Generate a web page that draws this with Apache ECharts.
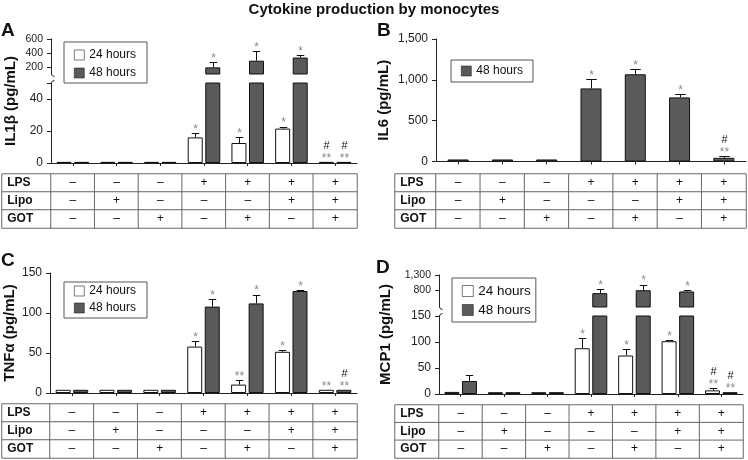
<!DOCTYPE html>
<html><head><meta charset="utf-8">
<script src="https://cdn.jsdelivr.net/npm/echarts@6/dist/echarts.min.js"></script>
<style>html,body{margin:0;padding:0;background:#fff}#c{width:748px;height:460px}</style>
</head><body><div id="c"></div>
<script>
// ---------- data ----------
const conditions = ['1', '2', '3', '4', '5', '6', '7'];
const tableRows = ['LPS', 'Lipo', 'GOT'];
const lpsRow  = ['–', '–', '–', '+', '+', '+', '+'];
const lipoRow = ['–', '+', '–', '–', '–', '+', '+'];
const gotRow  = ['–', '–', '+', '–', '+', '–', '+'];
const name24 = '24 hours';
const name48 = '48 hours';

// Panel A: IL1β (pg/mL)
const il1b24 = [0.7, 0.7, 0.7, 16, 12.5, 21.5, 0.7];
const il1b24Err = [0, 0, 0, 2.8, 3.5, 1.2, 0];
const il1b24Sig = ['', '', '', '*', '*', '*', '#**'];
const il1b48 = [0.7, 0.7, 0.7, 195, 290, 335, 0.7];
const il1b48Err = [0, 0, 0, 70, 140, 35, 0];
const il1b48Sig = ['', '', '', '*', '*', '*', '#**'];
const il1bTopLabels = [200, 400, 600];
const il1bBottomLabels = [0, 20, 40];
const il1bBottomTicks = [0, 20, 40, 50];

// Panel B: IL6 (pg/mL)
const il6_48 = [25, 25, 25, 895, 1068, 785, 45];
const il6_48Err = [0, 0, 0, 115, 60, 42, 18];
const il6_48Sig = ['', '', '', '*', '*', '*', '#**'];
const il6Labels = [0, 500, 1000, 1500];

// Panel C: TNFα (pg/mL)
const tnf24 = [4, 4, 4, 58, 10.5, 51.5, 4];
const tnf24Err = [0, 0, 0, 7, 6, 1.8, 0];
const tnf24Sig = ['', '', '', '*', '**', '*', '**'];
const tnf48 = [4, 4, 4, 108, 112, 127.5, 4];
const tnf48Err = [0, 0, 0, 9, 11, 1.2, 0];
const tnf48Sig = ['', '', '', '*', '*', '*', '#**'];
const tnfLabels = [0, 50, 100, 150];

// Panel D: MCP1 (pg/mL)
const mcp24 = [4, 3.5, 3.5, 88, 74, 101.5, 7];
const mcp24Err = [0, 0, 0, 20, 13, 1.5, 4.5];
const mcp24Sig = ['', '', '', '*', '*', '*', '#**'];
const mcp48 = [25, 3.5, 3.5, 715, 810, 770, 3.5];
const mcp48Err = [11, 0, 0, 140, 180, 40, 0];
const mcp48Sig = ['', '', '', '*', '*', '*', '#**'];
const mcpTopLabels = [800, 1300];
const mcpBottomLabels = [0, 50, 100, 150];

// ---------- builders ----------
const FONT = 'Liberation Sans, Arial, Helvetica, sans-serif';
const AX = '#222';
const grids = [], xAxis = [], yAxis = [], series = [], heatIdx = [], hooks = [];
const fmt = v => String(v).replace(/\B(?=(\d{3})+(?!\d))/g, ',');

function addGrid(left, top, width, height) {
  grids.push({ left, top, width, height, containLabel: false });
  return grids.length - 1;
}

function errSeries(xi, yi, values, errs, sigs, offset, capW, lo, hi) {
  return {
    type: 'custom', xAxisIndex: xi, yAxisIndex: yi, silent: true, z: 5, clip: false,
    data: values.map((v, i) => [i, v, errs[i]]),
    renderItem: function (params, api) {
      const i = api.value(0), v = api.value(1), e = api.value(2);
      if (!(v > lo && v <= hi)) return null;
      const base = api.coord([i, v]);
      const top = api.coord([i, v + e]);
      const x = Math.round(base[0] + offset) + 0.5;
      const children = [];
      if (e > 0) {
        const yt = Math.round(top[1]) + 0.5;
        children.push({ type: 'line', shape: { x1: x, y1: base[1], x2: x, y2: yt }, style: { stroke: '#111', lineWidth: 1 } });
        children.push({ type: 'line', shape: { x1: x - capW / 2, y1: yt, x2: x + capW / 2, y2: yt }, style: { stroke: '#111', lineWidth: 1 } });
      }
      const s = sigs[i];
      if (s) {
        const hasHash = s.indexOf('#') >= 0;
        const stars = s.replace('#', '');
        const y0 = top[1] + 2.5;
        children.push({ type: 'text', x: x, y: y0, style: { text: stars, fill: '#8a8a8a', font: '12px ' + FONT, align: 'center', verticalAlign: 'bottom' } });
        if (hasHash) {
          children.push({ type: 'text', x: x, y: y0 - 13, style: { text: '#', fill: '#111', font: '11px ' + FONT, align: 'center', verticalAlign: 'bottom' } });
        }
      }
      return { type: 'group', children };
    }
  };
}

function barPanel(cfg) {
  const n = cfg.data.length;
  const gapRatio = 0.17;
  const gapPx = cfg.barW * gapRatio;
  const offsets = n === 2 ? [-(cfg.barW + gapPx) / 2, (cfg.barW + gapPx) / 2] : [0];
  cfg.segments.forEach((seg, si) => {
    const gi = addGrid(cfg.axisX, seg.top, cfg.right - cfg.axisX, seg.height);
    if (cfg.segments.length > 1) {
      if (si === 0) hooks.push({ x: cfg.axisX, y: seg.top + seg.height, dir: 1 });
      else hooks.push({ x: cfg.axisX, y: seg.top, dir: -1 });
    }
    xAxis.push({
      gridIndex: gi, type: 'category', data: conditions,
      axisLine: { show: seg.xLine, lineStyle: { color: AX, width: 1 } },
      axisTick: { show: seg.xLine, alignWithLabel: true, length: 3, lineStyle: { color: AX } },
      axisLabel: { show: false }, splitLine: { show: false }
    });
    const xi = xAxis.length - 1;
    yAxis.push({
      gridIndex: gi, type: 'value', min: seg.min, max: seg.max,
      axisLine: { show: true, lineStyle: { color: AX, width: 1 } },
      axisTick: { show: true, length: 4, customValues: seg.ticks, lineStyle: { color: AX } },
      axisLabel: { show: true, customValues: seg.labels, fontSize: seg.fontSize, color: '#222', margin: 8, fontFamily: FONT, formatter: fmt },
      splitLine: { show: false },
      name: seg.name || '', nameLocation: 'middle', nameRotate: 90, nameGap: seg.nameGap || 0,
      nameTextStyle: { fontSize: 15, fontWeight: 'bold', color: '#111', fontFamily: FONT }
    });
    const yi = yAxis.length - 1;
    cfg.data.forEach((d) => {
      series.push({
        type: 'bar', name: d.name, xAxisIndex: xi, yAxisIndex: yi,
        barWidth: cfg.barW, barGap: (gapRatio * 100) + '%', clip: true, silent: true,
        itemStyle: { color: d.color, borderColor: '#111', borderWidth: 1 },
        data: d.values.map(v => (v > seg.lo ? v : null))
      });
    });
    cfg.data.forEach((d, k) => {
      series.push(errSeries(xi, yi, d.values, d.errs, d.sigs, offsets[k], cfg.barW * 0.5, seg.lo, seg.hi));
    });
  });
  if (cfg.nameAxis) {
    const na = cfg.nameAxis;
    const gi = addGrid(cfg.axisX, na.top, 1, na.height);
    xAxis.push({ gridIndex: gi, type: 'value', show: false });
    yAxis.push({
      gridIndex: gi, type: 'value', show: true,
      axisLine: { show: false }, axisTick: { show: false }, axisLabel: { show: false }, splitLine: { show: false },
      name: na.name, nameLocation: 'middle', nameRotate: 90, nameGap: na.gap,
      nameTextStyle: { fontSize: 15, fontWeight: 'bold', color: '#111', fontFamily: FONT }
    });
  }
}

function tablePanel(labelLeft, dataLeft, right, top, height) {
  const rows = [lpsRow, lipoRow, gotRow];
  const gL = addGrid(labelLeft, top, dataLeft - labelLeft, height);
  xAxis.push({ gridIndex: gL, type: 'category', data: [''], show: false });
  yAxis.push({ gridIndex: gL, type: 'category', data: tableRows, inverse: true, show: false });
  heatIdx.push(series.length);
  series.push({
    type: 'heatmap', xAxisIndex: xAxis.length - 1, yAxisIndex: yAxis.length - 1, silent: true,
    data: tableRows.map((r, i) => [0, i, 0]),
    itemStyle: { borderColor: '#6a6a6a', borderWidth: 1 },
    emphasis: { disabled: true },
    label: { show: true, position: 'insideLeft', distance: 6, fontWeight: 'bold', fontSize: 12, color: '#111', fontFamily: FONT,
      formatter: p => tableRows[p.data[1]] }
  });
  const gD = addGrid(dataLeft, top, right - dataLeft, height);
  xAxis.push({ gridIndex: gD, type: 'category', data: conditions, show: false });
  yAxis.push({ gridIndex: gD, type: 'category', data: tableRows, inverse: true, show: false });
  const cells = [];
  rows.forEach((row, r) => row.forEach((v, c) => cells.push([c, r, 0])));
  heatIdx.push(series.length);
  series.push({
    type: 'heatmap', xAxisIndex: xAxis.length - 1, yAxisIndex: yAxis.length - 1, silent: true,
    data: cells,
    itemStyle: { borderColor: '#6a6a6a', borderWidth: 1 },
    emphasis: { disabled: true },
    label: { show: true, fontSize: 12, color: '#111', fontFamily: FONT,
      formatter: p => rows[p.data[1]][p.data[0]] }
  });
}

const WHITE = '#ffffff', DARK = '#5a5a5a';

// Panel A
barPanel({
  axisX: 51, right: 357, barW: 15,
  data: [
    { name: name24, values: il1b24, errs: il1b24Err, sigs: il1b24Sig, color: WHITE },
    { name: name48, values: il1b48, errs: il1b48Err, sigs: il1b48Sig, color: DARK }
  ],
  segments: [
    { top: 39, height: 35, min: 100, max: 600, ticks: il1bTopLabels, labels: il1bTopLabels, fontSize: 10.5, xLine: false, lo: 50, hi: Infinity },
    { top: 83, height: 80, min: 0, max: 50, ticks: il1bBottomTicks, labels: il1bBottomLabels, fontSize: 12, xLine: true, lo: -Infinity, hi: 50 }
  ],
  nameAxis: { top: 39, height: 124, name: 'IL1β (pg/mL)', gap: 33 }
});
tablePanel(2, 51, 357, 174, 54);

// Panel B
barPanel({
  axisX: 436, right: 746, barW: 21,
  data: [ { name: name48, values: il6_48, errs: il6_48Err, sigs: il6_48Sig, color: DARK } ],
  segments: [
    { top: 39, height: 122.5, min: 0, max: 1500, ticks: il6Labels, labels: il6Labels, fontSize: 12, xLine: true, lo: -Infinity, hi: Infinity,
      name: 'IL6 (pg/mL)', nameGap: 45 }
  ]
});
tablePanel(395, 436, 746, 174, 54);

// Panel C
barPanel({
  axisX: 50, right: 357, barW: 15,
  data: [
    { name: name24, values: tnf24, errs: tnf24Err, sigs: tnf24Sig, color: WHITE },
    { name: name48, values: tnf48, errs: tnf48Err, sigs: tnf48Sig, color: DARK }
  ],
  segments: [
    { top: 273, height: 120, min: 0, max: 150, ticks: tnfLabels, labels: tnfLabels, fontSize: 12, xLine: true, lo: -Infinity, hi: Infinity,
      name: 'TNFα (pg/mL)', nameGap: 33 }
  ]
});
tablePanel(2, 50, 357, 404, 54);

// Panel D
barPanel({
  axisX: 439, right: 743, barW: 15,
  data: [
    { name: name24, values: mcp24, errs: mcp24Err, sigs: mcp24Sig, color: WHITE },
    { name: name48, values: mcp48, errs: mcp48Err, sigs: mcp48Sig, color: DARK }
  ],
  segments: [
    { top: 275, height: 32, min: 270, max: 1300, ticks: mcpTopLabels, labels: mcpTopLabels, fontSize: 10.5, xLine: false, lo: 150, hi: Infinity },
    { top: 316, height: 78, min: 0, max: 150, ticks: mcpBottomLabels, labels: mcpBottomLabels, fontSize: 12, xLine: true, lo: -Infinity, hi: 150 }
  ],
  nameAxis: { top: 275, height: 119, name: 'MCP1 (pg/mL)', gap: 46 }
});
tablePanel(395, 439, 743, 405, 53);

// small curved hooks at the axis breaks
const graphic = hooks.map(h => ({
  type: 'bezierCurve', silent: true, z: 10,
  shape: { x1: h.x + 0.5, y1: h.y, cpx1: h.x + 0.5, cpy1: h.y + 2 * h.dir, x2: h.x + 3.5, y2: h.y + 2.5 * h.dir },
  style: { stroke: AX, lineWidth: 1, fill: null }
}));

const legendBase = {
  orient: 'vertical', itemWidth: 10, itemHeight: 10, icon: 'rect', selectedMode: false,
  borderColor: '#555', borderWidth: 1, borderRadius: 0,
  itemStyle: { borderWidth: 0.6, borderColor: '#222' },
  textStyle: { fontSize: 12, color: '#111', fontFamily: FONT }
};

const option = {
  animation: false,
  backgroundColor: '#fff',
  textStyle: { fontFamily: FONT },
  title: [
    { text: 'Cytokine production by monocytes', left: 'center', top: 2, padding: 0,
      textStyle: { fontSize: 15, fontWeight: 'bold', color: '#111', fontFamily: FONT } },
    { text: 'A', left: 1, top: 21, padding: 0, textStyle: { fontSize: 19, fontWeight: 'bold', color: '#111', fontFamily: FONT } },
    { text: 'B', left: 377, top: 21, padding: 0, textStyle: { fontSize: 19, fontWeight: 'bold', color: '#111', fontFamily: FONT } },
    { text: 'C', left: 1, top: 251, padding: 0, textStyle: { fontSize: 19, fontWeight: 'bold', color: '#111', fontFamily: FONT } },
    { text: 'D', left: 376, top: 258, padding: 0, textStyle: { fontSize: 19, fontWeight: 'bold', color: '#111', fontFamily: FONT } }
  ],
  legend: [
    Object.assign({}, legendBase, { left: 64, top: 42, data: [name24, name48], itemGap: 6, padding: [7, 11, 4, 10] }),
    Object.assign({}, legendBase, { left: 451, top: 60, data: [name48], padding: [5, 10, 5, 10] }),
    Object.assign({}, legendBase, { left: 64, top: 282, data: [name24, name48], itemGap: 5, padding: [3, 11, 4, 10] }),
    Object.assign({}, legendBase, { left: 452, top: 278, data: [name24, name48], itemGap: 5, padding: [6, 5, 5, 10],
      itemWidth: 11, itemHeight: 11, textStyle: { fontSize: 13.5, color: '#111', fontFamily: FONT } })
  ],
  visualMap: { show: false, type: 'continuous', min: 0, max: 1, dimension: 2, seriesIndex: heatIdx,
    inRange: { color: ['#ffffff', '#ffffff'] } },
  graphic: graphic,
  grid: grids,
  xAxis: xAxis,
  yAxis: yAxis,
  series: series
};

const chart = echarts.init(document.getElementById('c'), null, { renderer: 'canvas' });
chart.setOption(option);
</script>
</body></html>
